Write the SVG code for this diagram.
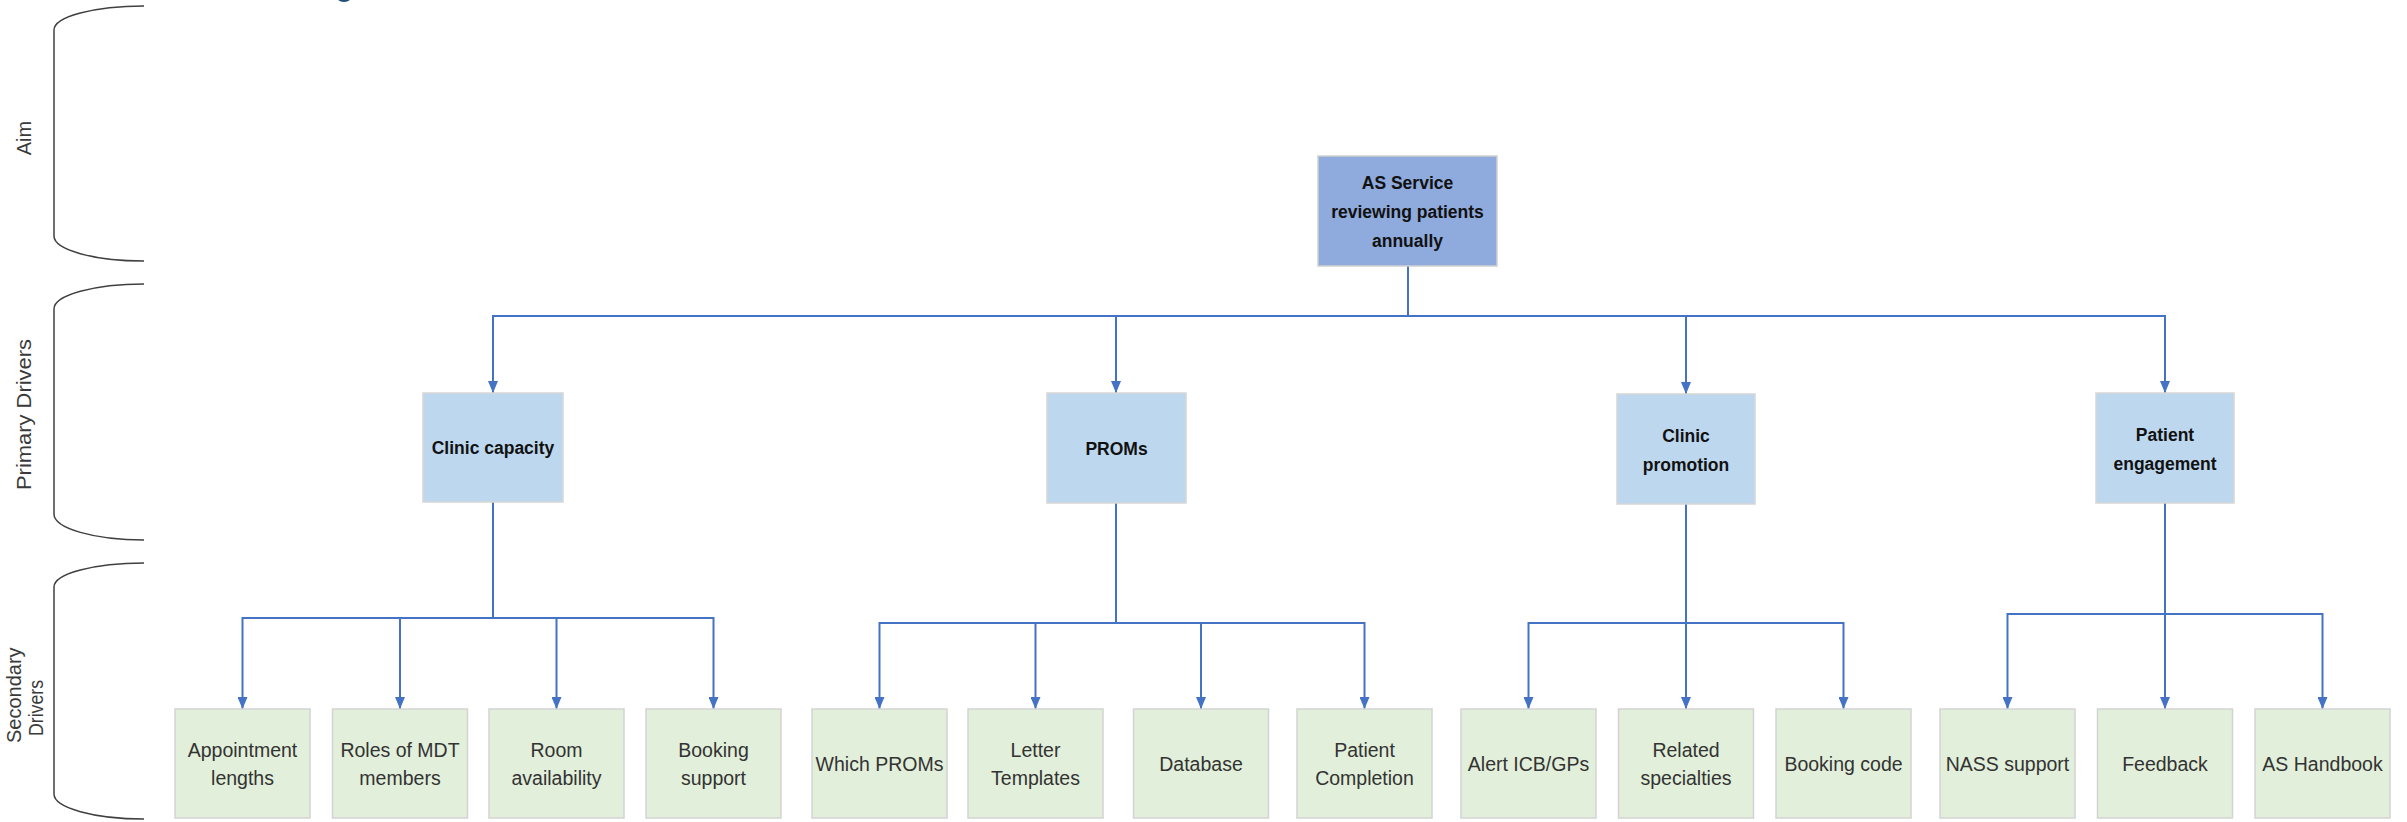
<svg xmlns="http://www.w3.org/2000/svg" width="2407" height="822" viewBox="0 0 2407 822">
<style>
.aim{fill:#8FAADC;stroke:#D0D0D0;stroke-width:1.5}
.pri{fill:#BDD7EE;stroke:#D6D6D6;stroke-width:1.5}
.sec{fill:#E2EFDA;stroke:#D3D3D3;stroke-width:1.5}
.tb{font-family:"Liberation Sans",Arial,sans-serif;font-weight:bold;font-size:17.5px;fill:#111;text-anchor:middle}
.ts{font-family:"Liberation Sans",Arial,sans-serif;font-size:19.5px;fill:#333;text-anchor:middle}
.lab{font-family:"Liberation Sans",Arial,sans-serif;font-size:20px;fill:#3a3a3a}
.br{fill:none;stroke:#404040;stroke-width:1.5}
.con{fill:none;stroke:#4472C4;stroke-width:2;marker-end:url(#arr)}
</style>
<defs>
<marker id="arr" markerUnits="userSpaceOnUse" markerWidth="12" markerHeight="10" refX="12" refY="5" orient="auto">
<path d="M0,0 L12,5 L0,10 z" fill="#4472C4"/>
</marker>
</defs>
<rect width="2407" height="822" fill="#fff"/>
<ellipse cx="344" cy="-6" rx="9" ry="8" fill="#1F4E79"/>
<g id="brackets">
<path class="br" d="M144,6 A90,24 0 0 0 54,30 V236 A90,25 0 0 0 144,261"/>
<path class="br" d="M144,284 A90,25 0 0 0 54,309 V514 A90,26 0 0 0 144,540"/>
<path class="br" d="M144,563 A90,24 0 0 0 54,587 V794 A90,25 0 0 0 144,819"/>
<text class="lab" text-anchor="middle" transform="translate(31,138) rotate(-90)">Aim</text>
<text class="lab" text-anchor="middle" textLength="151" lengthAdjust="spacingAndGlyphs" transform="translate(30.5,414.5) rotate(-90)">Primary Drivers</text>
<text class="lab" transform="translate(20.5,743) rotate(-90)">Secondary</text>
<text class="lab" textLength="56" lengthAdjust="spacingAndGlyphs" transform="translate(43,736) rotate(-90)">Drivers</text>
</g>
<g id="connectors">
<path class="con" d="M1408,266 V316 H493 V393"/>
<path class="con" d="M1408,266 V316 H1116 V393"/>
<path class="con" d="M1408,266 V316 H1686 V394"/>
<path class="con" d="M1408,266 V316 H2165 V393"/>
<path class="con" d="M493,502 V618 H242.5 V709"/>
<path class="con" d="M493,502 V618 H400 V709"/>
<path class="con" d="M493,502 V618 H556.5 V709"/>
<path class="con" d="M493,502 V618 H713.5 V709"/>
<path class="con" d="M1116,503 V623 H879.5 V709"/>
<path class="con" d="M1116,503 V623 H1035.5 V709"/>
<path class="con" d="M1116,503 V623 H1201 V709"/>
<path class="con" d="M1116,503 V623 H1364.5 V709"/>
<path class="con" d="M1686,504 V623 H1528.5 V709"/>
<path class="con" d="M1686,504 V709"/>
<path class="con" d="M1686,504 V623 H1843.5 V709"/>
<path class="con" d="M2165,503 V614 H2007.5 V709"/>
<path class="con" d="M2165,503 V709"/>
<path class="con" d="M2165,503 V614 H2322.5 V709"/>
</g>
<g id="aim">
<rect class="aim" x="1318" y="156" width="179" height="110"/>
<text class="tb" x="1407.5" y="189">AS Service</text>
<text class="tb" x="1407.5" y="218">reviewing patients</text>
<text class="tb" x="1407.5" y="247">annually</text>
</g>
<g id="p-clinic-capacity">
<rect class="pri" x="423" y="393" width="140" height="109"/>
<text class="tb" x="493" y="454">Clinic capacity</text>
</g>
<g id="p-proms">
<rect class="pri" x="1047" y="393" width="139" height="110"/>
<text class="tb" x="1116.5" y="454.5">PROMs</text>
</g>
<g id="p-clinic-promotion">
<rect class="pri" x="1617" y="394" width="138" height="110"/>
<text class="tb" x="1686" y="441.5">Clinic</text>
<text class="tb" x="1686" y="470.5">promotion</text>
</g>
<g id="p-patient-engagement">
<rect class="pri" x="2096" y="393" width="138" height="110"/>
<text class="tb" x="2165" y="440.5">Patient</text>
<text class="tb" x="2165" y="469.5">engagement</text>
</g>
<g id="s1"><rect class="sec" x="175" y="709" width="135" height="109"/><text class="ts" x="242.5" y="757">Appointment</text><text class="ts" x="242.5" y="785">lengths</text></g>
<g id="s2"><rect class="sec" x="332.5" y="709" width="135" height="109"/><text class="ts" x="400" y="757">Roles of MDT</text><text class="ts" x="400" y="785">members</text></g>
<g id="s3"><rect class="sec" x="489" y="709" width="135" height="109"/><text class="ts" x="556.5" y="757">Room</text><text class="ts" x="556.5" y="785">availability</text></g>
<g id="s4"><rect class="sec" x="646" y="709" width="135" height="109"/><text class="ts" x="713.5" y="757">Booking</text><text class="ts" x="713.5" y="785">support</text></g>
<g id="s5"><rect class="sec" x="812" y="709" width="135" height="109"/><text class="ts" x="879.5" y="771">Which PROMs</text></g>
<g id="s6"><rect class="sec" x="968" y="709" width="135" height="109"/><text class="ts" x="1035.5" y="757">Letter</text><text class="ts" x="1035.5" y="785">Templates</text></g>
<g id="s7"><rect class="sec" x="1133.5" y="709" width="135" height="109"/><text class="ts" x="1201" y="771">Database</text></g>
<g id="s8"><rect class="sec" x="1297" y="709" width="135" height="109"/><text class="ts" x="1364.5" y="757">Patient</text><text class="ts" x="1364.5" y="785">Completion</text></g>
<g id="s9"><rect class="sec" x="1461" y="709" width="135" height="109"/><text class="ts" x="1528.5" y="771">Alert ICB/GPs</text></g>
<g id="s10"><rect class="sec" x="1618.5" y="709" width="135" height="109"/><text class="ts" x="1686" y="757">Related</text><text class="ts" x="1686" y="785">specialties</text></g>
<g id="s11"><rect class="sec" x="1776" y="709" width="135" height="109"/><text class="ts" x="1843.5" y="771">Booking code</text></g>
<g id="s12"><rect class="sec" x="1940" y="709" width="135" height="109"/><text class="ts" x="2007.5" y="771">NASS support</text></g>
<g id="s13"><rect class="sec" x="2097.5" y="709" width="135" height="109"/><text class="ts" x="2165" y="771">Feedback</text></g>
<g id="s14"><rect class="sec" x="2255" y="709" width="135" height="109"/><text class="ts" x="2322.5" y="771">AS Handbook</text></g>
</svg>
